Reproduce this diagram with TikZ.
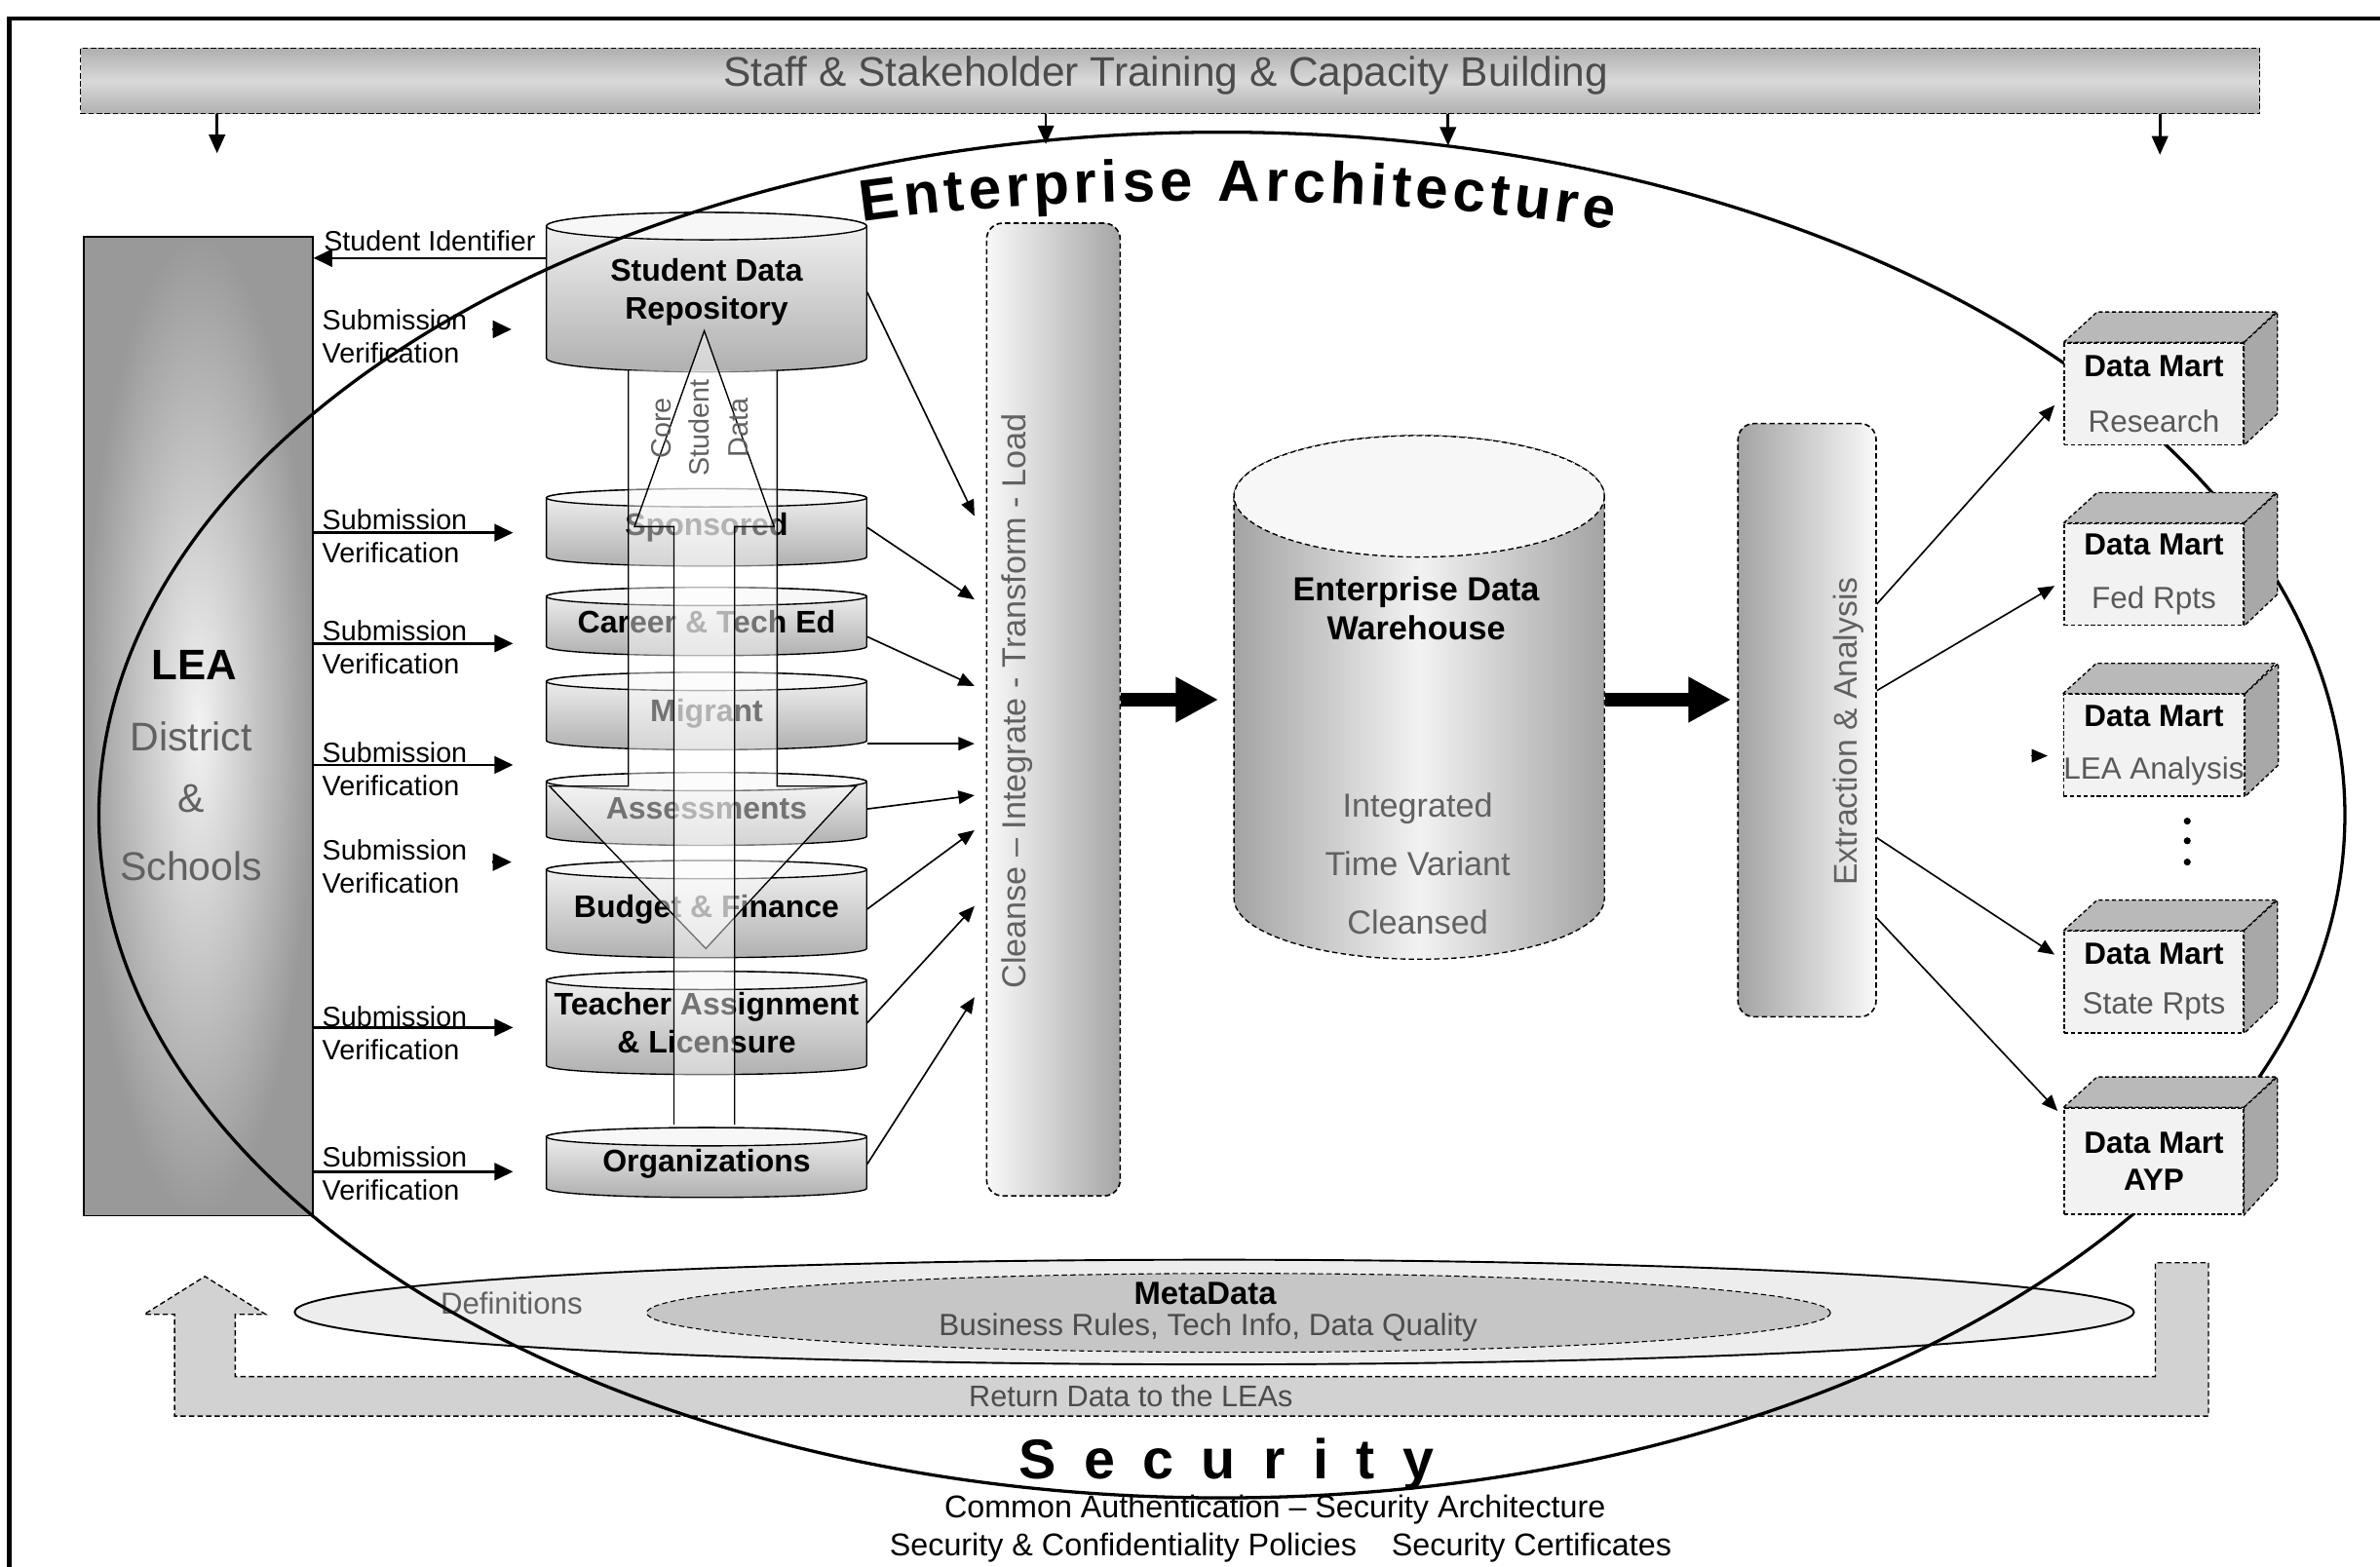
\documentclass[tikz,border=0pt]{standalone}
\usepackage{fontspec}
\setmainfont{Liberation Sans}
\setsansfont{Liberation Sans}
\usetikzlibrary{arrows.meta,shapes.geometric,decorations.text,calc}
\tikzset{
  txt/.style={font=\fontsize{10.5}{12.5}\selectfont, inner sep=0pt},
  cyllbl/.style={font=\bfseries\fontsize{11.7}{14}\selectfont, inner sep=0pt, align=center},
  softtxt/.style={text=black!62},
  thinarr/.style={line width=0.6pt, -{Triangle[length=6pt,width=5pt]}},
  subarr/.style={line width=0.9pt, -{Triangle[length=7pt,width=6.5pt]}},
  bigarr/.style={line width=5pt, -{Triangle[length=16pt,width=16pt]}},
  martfront/.style={rectangle, draw=black, dash pattern=on 1.5pt off 1pt, line width=0.5pt, fill=gray!10, minimum width=2.36cm, minimum height=1.34cm, inner sep=0pt, align=center, font=\fontsize{11.5}{13.8}\selectfont},
}
\newcommand{\dbcylinder}[5]{%
  \path[top color=gray!8, bottom color=gray!62, draw=black, line width=0.5pt]
    (#1,#3) -- (#1,#4) arc[start angle=180, end angle=0, x radius={(#2-#1)/2}, y radius=#5]
    -- (#2,#3) arc[start angle=0, end angle=-180, x radius={(#2-#1)/2}, y radius=#5] -- cycle;
  \path[fill=gray!6, draw=black, line width=0.5pt] ({(#1+#2)/2},#3) ellipse [x radius={(#2-#1)/2}, y radius=#5];
}
\newcommand{\martfaces}[1]{%
  \path[fill=gray!55, draw=black, dash pattern=on 1.5pt off 1pt, line width=0.5pt] (#1.north west) -- ++(22,-20) -- ++(118,0) -- (#1.north east) -- cycle;
  \path[fill=gray!68, draw=black, dash pattern=on 1.5pt off 1pt, line width=0.5pt] (#1.north east) -- ++(22,-20) -- ++(0,67) -- (#1.south east) -- cycle;
}
\begin{document}
\begin{tikzpicture}[x=0.02cm, y=-0.02cm]
\useasboundingbox (0,0) rectangle (1568,1032);
% frame
\draw[line width=1.6pt] (6,1040) -- (6,12) -- (1575,12);

% banner
\node[rectangle, top color=gray!62, bottom color=gray!62, middle color=gray!30, draw=black, dash pattern=on 2pt off 1pt, minimum width=28.72cm, minimum height=0.86cm, inner sep=0pt] (banner) at (771,53.5) {};
\node[font=\fontsize{15.5}{18}\selectfont, text=black!70, inner sep=0pt] (bannertxt) at (768,50) {Staff \& Stakeholder Training \& Capacity Building};
\coordinate (t1) at (143,101);
\coordinate (t2) at (689,95);
\coordinate (t3) at (954,96);
\coordinate (t4) at (1423,102);
\foreach \t in {t1,t2,t3,t4} \draw[line width=1pt, -{Triangle[length=7pt,width=6pt]}] (banner.south -| \t) -- (\t);

% LEA box
\node[rectangle, inner color=gray!10, outer color=gray!80, draw=black, line width=0.6pt, minimum width=3.02cm, minimum height=12.9cm, inner sep=0pt] (lea) at (130.5,478.5) {};
\node[font=\bfseries\fontsize{16}{19}\selectfont, inner sep=0pt] (leat) at (128,438) {LEA};
\node[font=\fontsize{15}{18}\selectfont, softtxt, inner sep=0pt] (leat2) at (126,485) {District};
\node[font=\fontsize{15}{18}\selectfont, softtxt, inner sep=0pt] (leat3) at (126,526) {\&};
\node[font=\fontsize{15}{18}\selectfont, softtxt, inner sep=0pt] (leat4) at (126,571) {Schools};

% source cylinders
\dbcylinder{360}{571}{149}{236}{9}
\node[cyllbl, minimum width=4.22cm, minimum height=2.1cm] (sdr) at (465.5,192.5) {Student Data\\Repository};
\dbcylinder{360}{571}{328}{367}{6}
\node[cyllbl, minimum width=4.22cm, minimum height=1.02cm] (spons) at (465.5,347.5) {Sponsored};
\dbcylinder{360}{571}{393}{426}{6}
\node[cyllbl, minimum width=4.22cm, minimum height=0.9cm] (career) at (465.5,409.5) {Career \& Tech Ed};
\dbcylinder{360}{571}{449}{488}{6}
\node[cyllbl, minimum width=4.22cm, minimum height=1.02cm] (migrant) at (465.5,470) {Migrant};
\dbcylinder{360}{571}{515}{551}{6}
\node[cyllbl, minimum width=4.22cm, minimum height=0.96cm] (assess) at (465.5,533) {Assessments};
\dbcylinder{360}{571}{573}{625}{6}
\node[cyllbl, minimum width=4.22cm, minimum height=1.28cm] (budget) at (465.5,599) {Budget \& Finance};
\dbcylinder{360}{571}{646}{702}{6}
\node[cyllbl, minimum width=4.22cm, minimum height=1.36cm] (teacher) at (465.5,674) {Teacher Assignment\\\& Licensure};
\dbcylinder{360}{571}{749}{783}{6}
\node[cyllbl, minimum width=4.22cm, minimum height=0.92cm] (orgs) at (465.5,767) {Organizations};

% core student data overlays
\path[fill=white, fill opacity=0.45] (414,244) -- (414,518) -- (362,518) -- (465,625) -- (564,518) -- (512,518) -- (512,244) -- cycle;
\draw[line width=0.5pt] (414,244) -- (414,518) -- (362,518) -- (465,625) -- (564,518) -- (512,518) -- (512,244);
\path[fill=white, fill opacity=0.45] (444,741) -- (444,347) -- (418,347) -- (464,218) -- (510,347) -- (484,347) -- (484,741) -- cycle;
\draw[line width=0.5pt] (444,741) -- (444,347) -- (418,347) -- (464,218) -- (510,347) -- (484,347) -- (484,741);
\node[rotate=90, align=center, font=\fontsize{10.5}{14.5}\selectfont, softtxt, inner sep=0pt] (coretxt) at (461,282) {Core\\Student\\Data};

% student identifier
\coordinate (sidp) at (361,170);
\draw[line width=0.9pt, -{Triangle[length=7pt,width=6.5pt]}] (sdr.west |- sidp) -- (lea.east |- sidp);
\node[txt, anchor=south west] (sidtxt) at (213,166) {Student Identifier};

% submission / verification
\node[txt, anchor=west, align=left] (sv1) at (212,221.5) {Submission\\Verification};
\node[txt, anchor=west, align=left] (sv2) at (212,353.5) {Submission\\Verification};
\node[txt, anchor=west, align=left] (sv3) at (212,426.5) {Submission\\Verification};
\node[txt, anchor=west, align=left] (sv4) at (212,507) {Submission\\Verification};
\node[txt, anchor=west, align=left] (sv5) at (212,571) {Submission\\Verification};
\node[txt, anchor=west, align=left] (sv6) at (212,681) {Submission\\Verification};
\node[txt, anchor=west, align=left] (sv7) at (212,773) {Submission\\Verification};
\coordinate (s1a) at (324,217); \coordinate (s1) at (337,217);
\coordinate (s2) at (338,351);
\coordinate (s3) at (338,424);
\coordinate (s4) at (338,504);
\coordinate (s5a) at (324,568); \coordinate (s5) at (337,568);
\coordinate (s6) at (338,677);
\coordinate (s7) at (338,772);
\draw[subarr] (s1a) -- (s1);
\draw[subarr] (s5a) -- (s5);
\foreach \s in {s2,s3,s4,s6,s7} \draw[subarr] (lea.east |- \s) -- (\s);

% ETL bar
\node[rectangle, rounded corners=6pt, left color=gray!5, right color=gray!70, draw=black, dash pattern=on 2pt off 1.2pt, line width=0.6pt, minimum width=1.76cm, minimum height=12.82cm, inner sep=0pt] (etl) at (694,467.5) {};
\node[rotate=90, font=\fontsize{12.5}{15}\selectfont, softtxt, inner sep=0pt] (etltxt) at (670,462) {Cleanse -- Integrate - Transform - Load};
\coordinate (e1) at (642,340);
\coordinate (e2) at (642,395);
\coordinate (e3) at (642,452);
\coordinate (e4) at (642,490);
\coordinate (e5) at (642,524);
\coordinate (e6) at (642,547);
\coordinate (e7) at (642,597);
\coordinate (e8) at (642,657);
\draw[thinarr] (sdr.east) -- (e1);
\draw[thinarr] (spons.east) -- (e2);
\draw[thinarr] ($(career.east)+(0,10)$) -- (e3);
\draw[thinarr] (migrant.east |- e4) -- (e4);
\draw[thinarr] (assess.east) -- (e5);
\draw[thinarr] (budget.east) -- (e6);
\draw[thinarr] (teacher.east) -- (e7);
\draw[thinarr] (orgs.east) -- (e8);

% EDW
\path[left color=gray!72, right color=gray!72, middle color=gray!10, draw=black, dash pattern=on 2pt off 1.2pt, line width=0.5pt]
  (813,327) -- (813,592) arc[start angle=180,end angle=0,x radius=122,y radius=40]
  -- (1057,327) arc[start angle=0,end angle=-180,x radius=122,y radius=40] -- cycle;
\path[fill=gray!6, draw=black, dash pattern=on 2pt off 1.2pt, line width=0.5pt] (935,327) ellipse [x radius=122, y radius=40];
\node[minimum width=4.88cm, minimum height=5.4cm, inner sep=0pt] (edw) at (935,461) {};
\node[font=\bfseries\fontsize{12.5}{14.7}\selectfont, align=center, inner sep=0pt] (edwtitle) at (933,401) {Enterprise Data\\Warehouse};
\node[softtxt, font=\fontsize{12.5}{15}\selectfont, align=center, inner sep=0pt] (edwprops) at (934,569) {Integrated\\[7pt]Time Variant\\[7pt]Cleansed};

% Extraction bar
\node[rectangle, rounded corners=6pt, left color=gray!72, right color=gray!5, draw=black, dash pattern=on 2pt off 1.2pt, line width=0.6pt, minimum width=1.82cm, minimum height=7.82cm, inner sep=0pt] (ext) at (1190.5,474.5) {};
\node[rotate=90, font=\fontsize{12.3}{15}\selectfont, softtxt, inner sep=0pt] (exttxt) at (1218,482) {Extraction \& Analysis};

% big arrows
\draw[bigarr] (etl.east |- edw.west) -- ($(edw.west)+(-10,0)$);
\draw[bigarr] (edw.east) -- ($(ext.west |- edw.east)+(-4,0)$);

% metadata
\node[ellipse, draw=black, line width=0.7pt, fill=gray!14, minimum width=24.24cm, minimum height=1.38cm, inner sep=0pt] (metaout) at (800,864.5) {};
\node[ellipse, draw=black, dash pattern=on 2pt off 1.2pt, fill=gray!45, minimum width=15.6cm, minimum height=1.04cm, inner sep=0pt] (metain) at (816,865) {};
\node[font=\fontsize{11.4}{13}\selectfont, softtxt, inner sep=0pt] (defs) at (337,859) {Definitions};
\node[font=\bfseries\fontsize{12}{14}\selectfont, inner sep=0pt] (metat) at (794,852) {MetaData};
\node[font=\fontsize{11.5}{13}\selectfont, text=black!70, inner sep=0pt] (metab) at (796,875) {Business Rules, Tech Info, Data Quality};

% return data arrow
\path[fill=gray!35, draw=black, dash pattern=on 2pt off 1.2pt, line width=0.5pt]
  (1455,832) -- (1455,933) -- (115,933) -- (115,866) -- (95,866) -- (135,841) -- (175,866) -- (155,866) -- (155,907) -- (1420,907) -- (1420,832) -- cycle;
\node[font=\fontsize{11.2}{13}\selectfont, text=black!70, inner sep=0pt] (ret) at (745,920) {Return Data to the LEAs};

% enterprise architecture ellipse
\node[ellipse, draw=black, line width=1.2pt, minimum width=29.6cm, minimum height=18cm, inner sep=0pt] (ea) at (805,537) {};

% data marts
\node[martfront] (m1) at (1419,259.5) {\textbf{Data Mart}\\[7pt]{\color{black!65}Research}};
\martfaces{m1}
\node[martfront] (m2) at (1419,378.5) {\textbf{Data Mart}\\[6pt]{\color{black!65}Fed Rpts}};
\martfaces{m2}
\node[martfront] (m3) at (1419,491) {\textbf{Data Mart}\\[6pt]{\color{black!65}LEA Analysis}};
\martfaces{m3}
\node[martfront] (m4) at (1419,647) {\textbf{Data Mart}\\[5pt]{\color{black!65}State Rpts}};
\martfaces{m4}
\node[martfront, minimum height=1.4cm] (m5) at (1419,765) {\textbf{Data Mart}\\\textbf{AYP}};
\martfaces{m5}
\fill (1441,541) circle [radius=2.3];
\fill (1441,554) circle [radius=2.3];
\fill (1441,568) circle [radius=2.3];

\draw[thinarr] ($(ext.east)+(0,-76.5)$) -- ($(m1.west)+(-6,7.5)$);
\draw[thinarr] ($(ext.east)+(0,-19.5)$) -- ($(m2.west)+(-6,7.5)$);
\coordinate (la1) at (1338,498);
\draw[thinarr] (la1) -- ($(m3.west)+(-10,7)$);
\draw[thinarr] ($(ext.east)+(0,77.5)$) -- ($(m4.west)+(-6,-18)$);
\draw[thinarr] ($(ext.east)+(0,130.5)$) -- ($(m5.west)+(-4,-33)$);

% Enterprise Architecture title
\path[decorate, decoration={text along path, text align={fit to path},
  text={|\bfseries\fontsize{22}{22}\selectfont|Enterprise Architecture}}]
  (568,146) .. controls (700,127) and (930,127) .. (1062,152);

% security
\node[font=\bfseries\fontsize{21}{25}\selectfont, inner sep=0pt] (sec) at (808,965) {S\hspace{10.4pt}e\hspace{10.4pt}c\hspace{10.4pt}u\hspace{10.4pt}r\hspace{10.4pt}i\hspace{10.4pt}t\hspace{10.4pt}y};
\node[font=\fontsize{11.8}{14}\selectfont, inner sep=0pt] (sec1) at (840,995) {Common Authentication -- Security Architecture};
\node[font=\fontsize{11.8}{14}\selectfont, inner sep=0pt] (sec2) at (740,1020) {Security \& Confidentiality Policies};
\node[font=\fontsize{11.8}{14}\selectfont, inner sep=0pt] (sec3) at (1009,1020) {Security Certificates};
\end{tikzpicture}
\end{document}
